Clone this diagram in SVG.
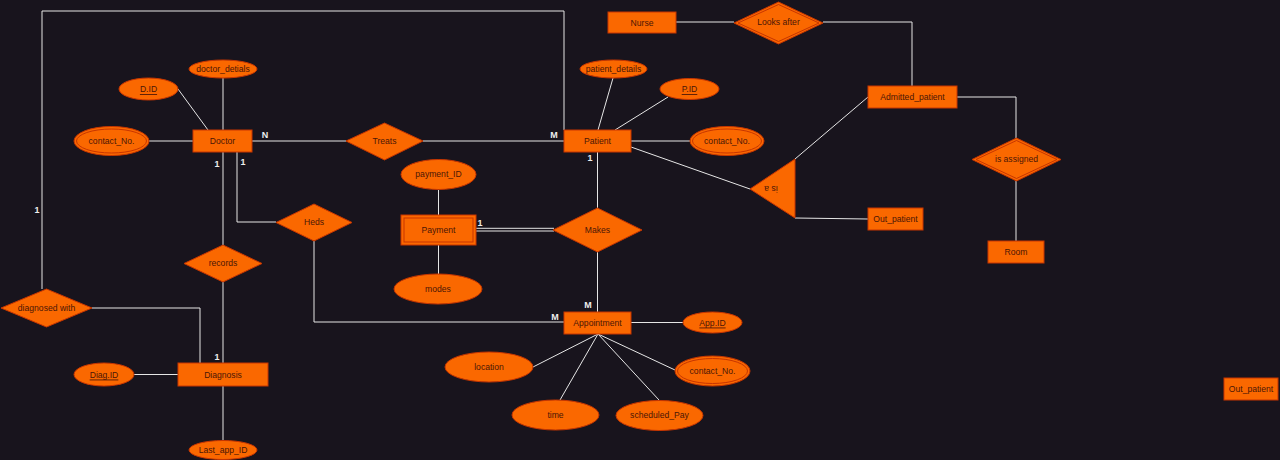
<svg xmlns="http://www.w3.org/2000/svg" width="1280" height="460" viewBox="0 0 1280 460">
  <style>
    .bg { fill: #18141d; }
    .shape { fill: #fa6800; stroke: #c73500; stroke-width: 1; }
    .inner { fill: none; stroke: #c73500; stroke-width: 1; }
    .lbl { font-family: "Liberation Sans", Arial, sans-serif; font-size: 8.6px; fill: #4a1606; text-anchor: middle; dominant-baseline: central; }
    .key { text-decoration: underline; }
    .card { font-family: "Liberation Sans", Arial, sans-serif; font-size: 9px; font-weight: bold; fill: #eeeeee; text-anchor: middle; dominant-baseline: central; }
    .edge { fill: none; stroke: #e6e6e6; stroke-width: 1; }
  </style>
  <rect class="bg" x="0" y="0" width="1280" height="460"/>

  <!-- connectors -->
  <g id="connectors">
    <!-- diagnosed with ↔ Patient loop over the top -->
    <polyline class="edge" points="42,289 42,11 564,11 564,130"/>
    <!-- Doctor attributes -->
    <line class="edge" x1="178" y1="89" x2="208" y2="130"/>
    <line class="edge" x1="223" y1="78" x2="223" y2="130"/>
    <line class="edge" x1="149" y1="141" x2="193" y2="141"/>
    <!-- Doctor – Treats – Patient -->
    <line class="edge" x1="252" y1="141" x2="346" y2="141"/>
    <line class="edge" x1="423" y1="141" x2="564" y2="141"/>
    <!-- Patient attributes -->
    <line class="edge" x1="613" y1="78" x2="598" y2="130"/>
    <line class="edge" x1="668" y1="97" x2="615" y2="130"/>
    <line class="edge" x1="631" y1="141" x2="690" y2="141"/>
    <!-- Nurse – Looks after – Admitted_patient -->
    <line class="edge" x1="676" y1="22" x2="734" y2="22"/>
    <polyline class="edge" points="823,22 912,22 912,86"/>
    <!-- Admitted_patient – is assigned – Room -->
    <polyline class="edge" points="957,97 1016,97 1016,138"/>
    <line class="edge" x1="1016" y1="181" x2="1016" y2="241"/>
    <!-- specialisation -->
    <line class="edge" x1="631" y1="147" x2="750" y2="189"/>
    <line class="edge" x1="795" y1="159" x2="868" y2="97"/>
    <line class="edge" x1="795" y1="218" x2="868" y2="219"/>
    <!-- Doctor – records – Diagnosis -->
    <line class="edge" x1="223" y1="152" x2="223" y2="363"/>
    <!-- Doctor – Heds – Appointment -->
    <polyline class="edge" points="237,152 237,222 276,222"/>
    <polyline class="edge" points="314,241 314,322 564,322"/>
    <!-- diagnosed with – Diagnosis -->
    <polyline class="edge" points="92,308 200,308 200,363"/>
    <!-- Diagnosis attributes -->
    <line class="edge" x1="134" y1="374.5" x2="178" y2="374.5"/>
    <line class="edge" x1="223" y1="386" x2="223" y2="441"/>
    <!-- Payment attributes -->
    <line class="edge" x1="438.5" y1="190" x2="438.5" y2="215"/>
    <line class="edge" x1="438.5" y1="245" x2="438.5" y2="274"/>
    <!-- Payment = Makes (total participation) -->
    <line class="edge" x1="476" y1="228.3" x2="554" y2="228.3"/>
    <line class="edge" x1="476" y1="231" x2="554" y2="231"/>
    <!-- Patient – Makes – Appointment -->
    <line class="edge" x1="597.5" y1="152" x2="597.5" y2="208"/>
    <line class="edge" x1="597.5" y1="252" x2="597.5" y2="312"/>
    <!-- Appointment attributes -->
    <line class="edge" x1="631" y1="322.5" x2="683" y2="322.5"/>
    <line class="edge" x1="598" y1="334" x2="533" y2="367"/>
    <line class="edge" x1="598" y1="334" x2="560" y2="400"/>
    <line class="edge" x1="598" y1="334" x2="659" y2="400"/>
    <line class="edge" x1="598" y1="334" x2="675" y2="370"/>

    <!-- cardinalities -->
    <text class="card" x="37" y="210">1</text>
    <text class="card" x="265" y="135">N</text>
    <text class="card" x="554" y="135">M</text>
    <text class="card" x="590" y="158">1</text>
    <text class="card" x="217" y="164">1</text>
    <text class="card" x="243" y="162">1</text>
    <text class="card" x="217" y="357">1</text>
    <text class="card" x="480" y="223">1</text>
    <text class="card" x="588" y="305">M</text>
    <text class="card" x="555" y="317">M</text>
  </g>

  <!-- entities -->
  <g id="doctor"><rect class="shape" x="193" y="130" width="59" height="22"/><text class="lbl" x="222.5" y="141">Doctor</text></g>
  <g id="patient"><rect class="shape" x="564" y="130" width="67" height="22"/><text class="lbl" x="597.5" y="141">Patient</text></g>
  <g id="nurse"><rect class="shape" x="608" y="12" width="68" height="21"/><text class="lbl" x="642" y="22.5">Nurse</text></g>
  <g id="admitted-patient"><rect class="shape" x="868" y="86" width="89" height="22"/><text class="lbl" x="912.5" y="97">Admitted_patient</text></g>
  <g id="room"><rect class="shape" x="988" y="241" width="56" height="22"/><text class="lbl" x="1016" y="252">Room</text></g>
  <g id="out-patient"><rect class="shape" x="868" y="208" width="55" height="22"/><text class="lbl" x="895.5" y="219">Out_patient</text></g>
  <g id="out-patient-2"><rect class="shape" x="1224" y="378" width="54" height="22"/><text class="lbl" x="1251" y="389">Out_patient</text></g>
  <g id="diagnosis"><rect class="shape" x="178" y="363" width="90" height="23"/><text class="lbl" x="223" y="374.5">Diagnosis</text></g>
  <g id="appointment"><rect class="shape" x="564" y="312" width="67" height="22"/><text class="lbl" x="597.5" y="322.5">Appointment</text></g>
  <g id="payment">
    <rect class="shape" x="401" y="215" width="75" height="30"/>
    <rect class="inner" x="404" y="218" width="69" height="24"/>
    <text class="lbl" x="438.5" y="230">Payment</text>
  </g>

  <!-- relationships -->
  <g id="treats"><polygon class="shape" points="346,141 384.5,123 423,141 384.5,160"/><text class="lbl" x="384.5" y="141">Treats</text></g>
  <g id="looks-after"><polygon class="shape" points="734,23 778.5,2 823,23 778.5,44"/><polygon class="inner" points="738,23 778.5,4.5 819,23 778.5,41.5"/><text class="lbl" x="778.5" y="22">Looks after</text></g>
  <g id="is-assigned"><polygon class="shape" points="972,159.5 1016.5,138 1061,159.5 1016.5,181"/><polygon class="inner" points="976,159.5 1016.5,140.5 1057,159.5 1016.5,178.5"/><text class="lbl" x="1016.5" y="159">is assigned</text></g>
  <g id="records"><polygon class="shape" points="184,263.5 223,245 262,263.5 223,282"/><text class="lbl" x="223" y="263">records</text></g>
  <g id="heds"><polygon class="shape" points="276,222.5 314,204 352,222.5 314,241"/><text class="lbl" x="314" y="222">Heds</text></g>
  <g id="diagnosed-with"><polygon class="shape" points="1,308 46.5,289 92,308 46.5,327"/><text class="lbl" x="46.5" y="307.5">diagnosed with</text></g>
  <g id="makes"><polygon class="shape" points="553,230 597.5,208 642,230 597.5,252"/><text class="lbl" x="597.5" y="229.5">Makes</text></g>
  <g id="is-a">
    <polygon class="shape" points="750,189 795,159 795,218"/>
    <text class="lbl" x="771" y="189" transform="rotate(180 771 189)">is a</text>
  </g>

  <!-- attributes -->
  <g id="attr-d-id"><ellipse class="shape" cx="148.5" cy="89" rx="29.5" ry="11"/><text class="lbl key" x="148.5" y="89">D.ID</text></g>
  <g id="attr-doctor-details"><ellipse class="shape" cx="223" cy="69" rx="34" ry="9"/><text class="lbl" x="223" y="69">doctor_detials</text></g>
  <g id="attr-doctor-contact"><ellipse class="shape" cx="111.5" cy="141" rx="37.5" ry="14.5"/><ellipse class="inner" cx="111.5" cy="141" rx="35" ry="12"/><text class="lbl" x="111.5" y="141">contact_No.</text></g>
  <g id="attr-patient-details"><ellipse class="shape" cx="613.5" cy="69" rx="33.5" ry="9"/><text class="lbl" x="613.5" y="69">patient_details</text></g>
  <g id="attr-p-id"><ellipse class="shape" cx="689.5" cy="89" rx="29.5" ry="10.5"/><text class="lbl key" x="689.5" y="89">P.ID</text></g>
  <g id="attr-patient-contact"><ellipse class="shape" cx="727" cy="141" rx="37" ry="14.5"/><ellipse class="inner" cx="727" cy="141" rx="34.5" ry="12"/><text class="lbl" x="727" y="141">contact_No.</text></g>
  <g id="attr-diag-id"><ellipse class="shape" cx="104" cy="374.5" rx="30" ry="11.5"/><text class="lbl key" x="104" y="374.5">Diag.ID</text></g>
  <g id="attr-last-app-id"><ellipse class="shape" cx="223" cy="450" rx="34" ry="9.5"/><text class="lbl" x="223" y="450">Last_app_ID</text></g>
  <g id="attr-payment-id"><ellipse class="shape" cx="438.5" cy="174.5" rx="37.5" ry="15"/><text class="lbl" x="438.5" y="174">payment_ID</text></g>
  <g id="attr-modes"><ellipse class="shape" cx="438" cy="289" rx="44" ry="15"/><text class="lbl" x="438" y="289">modes</text></g>
  <g id="attr-app-id"><ellipse class="shape" cx="712.5" cy="322.5" rx="29.5" ry="10.5"/><text class="lbl key" x="712.5" y="322.5">App.ID</text></g>
  <g id="attr-location"><ellipse class="shape" cx="489" cy="367" rx="44" ry="15"/><text class="lbl" x="489" y="366.5">location</text></g>
  <g id="attr-time"><ellipse class="shape" cx="555.5" cy="415" rx="43.5" ry="15"/><text class="lbl" x="555.5" y="414.5">time</text></g>
  <g id="attr-scheduled-pay"><ellipse class="shape" cx="659.5" cy="415.5" rx="43.5" ry="15"/><text class="lbl" x="659.5" y="415">scheduled_Pay</text></g>
  <g id="attr-appointment-contact"><ellipse class="shape" cx="712.5" cy="371" rx="37.5" ry="15"/><ellipse class="inner" cx="712.5" cy="371" rx="35" ry="12.5"/><text class="lbl" x="712.5" y="371">contact_No.</text></g>
</svg>
